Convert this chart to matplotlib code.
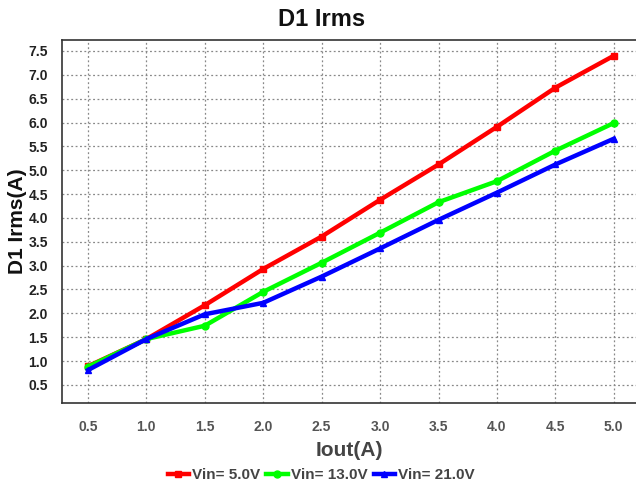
import matplotlib.pyplot as plt

plt.rcParams['font.family'] = ['Liberation Sans', 'DejaVu Sans']

iout = [0.5, 1.0, 1.5, 2.0, 2.5, 3.0, 3.5, 4.0, 4.5, 5.0]
vin5 = [0.89, 1.46, 2.17, 2.93, 3.61, 4.38, 5.12, 5.91, 6.73, 7.40]
vin13 = [0.88, 1.46, 1.74, 2.45, 3.06, 3.69, 4.33, 4.77, 5.41, 5.99]
vin21 = [0.81, 1.46, 1.98, 2.22, 2.77, 3.36, 3.96, 4.53, 5.12, 5.66]
xticks = [0.5, 1.0, 1.5, 2.0, 2.5, 3.0, 3.5, 4.0, 4.5, 5.0]
yticks = [0.5, 1.0, 1.5, 2.0, 2.5, 3.0, 3.5, 4.0, 4.5, 5.0, 5.5, 6.0, 6.5, 7.0, 7.5]

fig = plt.figure(figsize=(6.36, 4.91), dpi=100)
ax = fig.add_axes([62 / 636, 1 - 403 / 491, 574 / 636, 363 / 491])

ax.plot(iout, vin5, color='#ff0000', linewidth=3.2, marker='s', markersize=5, label='Vin= 5.0V')
ax.plot(iout, vin13, color='#00ff00', linewidth=3.2, marker='o', markersize=5, label='Vin= 13.0V')
ax.plot(iout, vin21, color='#0000ff', linewidth=3.2, marker='^', markersize=5, label='Vin= 21.0V')

ax.set_xlim(0.278, 5.19)
ax.set_ylim(0.12, 7.73)
ax.set_xticks(xticks)
ax.set_yticks(yticks)
ax.set_xticklabels([f'{v:.1f}' for v in xticks], fontsize=10, fontweight='bold', color='#555555')
ax.set_yticklabels([f'{v:.1f}' for v in yticks], fontsize=10, fontweight='bold', color='#222222')
ax.tick_params(axis='x', length=0, pad=12)
ax.tick_params(axis='y', length=0, pad=10)
ax.grid(True, linestyle=(0, (1.5, 2)), color='#888888', linewidth=0.9)

ax.spines['right'].set_visible(False)
for s in ['left', 'top', 'bottom']:
    ax.spines[s].set_color('#333333')
    ax.spines[s].set_linewidth(1.2)

fig.text(0.505, 1 - 19 / 491, 'D1 Irms', ha='center', va='center',
         fontsize=17, fontweight='bold', color='#111111')
ax.set_xlabel('Iout(A)', fontsize=15, fontweight='bold', color='#444444', labelpad=5)
ax.set_ylabel('D1 Irms(A)', fontsize=15, fontweight='bold', color='#111111', labelpad=1)

fig.legend(loc='lower center', bbox_to_anchor=(0.505, -0.01), ncol=3, frameon=False,
           handlelength=1.4, handletextpad=0.2, columnspacing=0.4,
           prop={'weight': 'bold', 'size': 11})
for t in fig.legends[0].get_texts():
    t.set_color('#444444')

fig.savefig('out.png', dpi=100)
